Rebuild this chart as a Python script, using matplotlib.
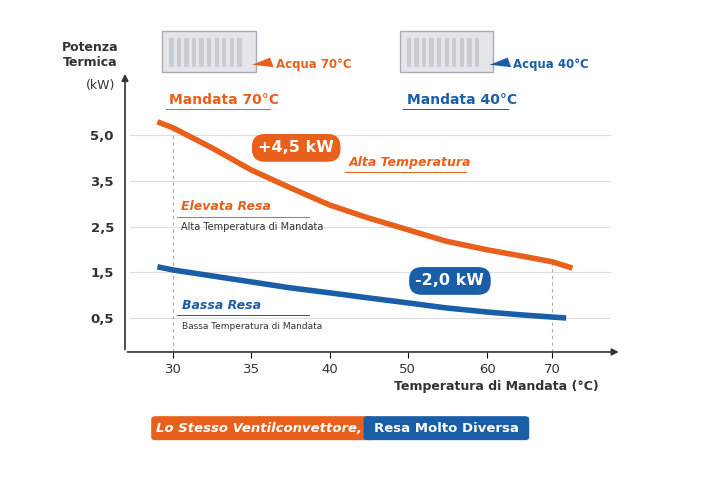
import matplotlib.pyplot as plt
from matplotlib.patches import FancyBboxPatch, Rectangle, Polygon

ORANGE = "#e8601c"
BLUE = "#1a5ea8"

x_labels = ["30", "35", "40", "50", "60", "70"]
x_pos = [0, 1, 2.01, 3.01, 4.03, 4.86]
y_labels = ["0,5", "1,5", "2,5", "3,5", "5,0"]
y_pos = [0, 1, 2, 3, 4]

# curves, in tick-slot units
curve_x = [-0.2, 0, 0.5, 1, 1.5, 2.01, 2.5, 3.01, 3.5, 4.03, 4.45, 4.86]
hot_y = [4.29, 4.16, 3.72, 3.24, 2.85, 2.47, 2.19, 1.93, 1.68, 1.49, 1.36, 1.23]
cold_y = [1.12, 1.05, 0.92, 0.79, 0.66, 0.55, 0.44, 0.33, 0.22, 0.13, 0.07, 0.02]
hot_end = (5.12, 1.09)
cold_end = (5.04, 0.0)

fig = plt.figure(figsize=(7.2, 4.8), dpi=100)
ax = fig.add_axes([0.1736, 0.2667, 0.6875, 0.5833])
ax.set_xlim(-0.615, 5.73)
ax.set_ylim(-0.744, 5.38)
for s in ax.spines.values():
    s.set_visible(False)

for y in y_pos:
    ax.plot([-0.55, 5.6], [y, y], color="#dddddd", lw=0.8, zorder=0)
ax.plot([0, 0], [-0.744, 4.16], color="#aaaaaa", lw=0.8, ls=(0, (3, 3)))
ax.plot([4.86, 4.86], [-0.744, 1.23], color="#aaaaaa", lw=0.8, ls=(0, (3, 3)))

ax.plot(curve_x + [hot_end[0]], hot_y + [hot_end[1]], color=ORANGE, lw=4,
        solid_capstyle="butt", solid_joinstyle="round")
ax.plot(curve_x + [cold_end[0]], cold_y + [cold_end[1]], color=BLUE, lw=4,
        solid_capstyle="butt", solid_joinstyle="round")

ax.annotate("", xy=(-0.615, 5.4), xytext=(-0.615, -0.75),
            arrowprops=dict(arrowstyle="-|>", color="#333", lw=1.2), annotation_clip=False)
ax.annotate("", xy=(5.75, -0.744), xytext=(-0.62, -0.744),
            arrowprops=dict(arrowstyle="-|>", color="#333", lw=1.2), annotation_clip=False)

ax.set_xticks(x_pos)
ax.set_xticklabels(x_labels, fontsize=9.5, color="#333")
ax.set_yticks(y_pos)
ax.set_yticklabels(y_labels, fontsize=9.5, color="#333", fontweight="bold")
ax.tick_params(axis="y", length=0, pad=8)
ax.tick_params(axis="x", length=4, direction="out", pad=4)

fig.text(0.125, 0.885, "Potenza\nTermica", ha="center", va="center", fontsize=9, fontweight="bold", color="#333")
fig.text(0.14, 0.822, "(kW)", ha="center", va="center", fontsize=9, color="#333")
fig.text(0.69, 0.194, "Temperatura di Mandata (°C)", ha="center", va="center", fontsize=9, fontweight="bold", color="#333")

ax.text(0.1, 2.43, "Elevata Resa", color=ORANGE, fontsize=9, fontweight="bold", style="italic", va="center")
ax.plot([0.05, 1.75], [2.2, 2.2], color=ORANGE, lw=0.7)
ax.text(0.1, 2.0, "Alta Temperatura di Mandata", color="#333", fontsize=7, va="center")
ax.text(2.26, 3.41, "Alta Temperatura", color=ORANGE, fontsize=9, fontweight="bold", style="italic", va="center")
ax.plot([2.2, 3.75], [3.2, 3.2], color=ORANGE, lw=0.7)
ax.text(0.12, 0.28, "Bassa Resa", color=BLUE, fontsize=9, fontweight="bold", style="italic", va="center")
ax.plot([0.05, 1.75], [0.07, 0.07], color=BLUE, lw=0.7)
ax.text(0.12, -0.18, "Bassa Temperatura di Mandata", color="#333", fontsize=6.5, va="center")

ax.text(1.58, 3.72, "+4,5 kW", color="white", fontsize=11.5, fontweight="bold", ha="center", va="center",
        bbox=dict(boxstyle="round,pad=0.4,rounding_size=0.8", fc=ORANGE, ec="none"))
ax.text(3.55, 0.81, "-2,0 kW", color="white", fontsize=11.5, fontweight="bold", ha="center", va="center",
        bbox=dict(boxstyle="round,pad=0.4,rounding_size=0.8", fc=BLUE, ec="none"))

def unit(x0, color, label, water):
    fig.patches.append(Rectangle((x0, 0.85), 0.13, 0.085, transform=fig.transFigure,
                                 fc="#e4e6ea", ec="#aab", lw=1))
    for i in range(10):
        fig.patches.append(Rectangle((x0 + 0.01 + i * 0.0105, 0.86), 0.006, 0.06,
                                     transform=fig.transFigure, fc="#c8ccd2", ec="none"))
    fig.patches.append(Polygon([(x0 + 0.125, 0.865), (x0 + 0.155, 0.86), (x0 + 0.15, 0.88)],
                               transform=fig.transFigure, fc=color, ec="none"))
    fig.text(x0 + 0.158, 0.865, water, color=color, fontsize=8.5, fontweight="bold", va="center")
    fig.text(x0 + 0.01, 0.792, label, color=color, fontsize=10, fontweight="bold", va="center")
    fig.lines.append(plt.Line2D([x0 + 0.005, x0 + 0.15], [0.772, 0.772], color=color, lw=0.7,
                                transform=fig.transFigure))

unit(0.225, ORANGE, "Mandata 70°C", "Acqua 70°C")
unit(0.555, BLUE, "Mandata 40°C", "Acqua 40°C")

fig.patches.append(FancyBboxPatch((0.21, 0.083), 0.31, 0.05, boxstyle="round,pad=0,rounding_size=0.006",
                                  transform=fig.transFigure, fc=ORANGE, ec="none"))
fig.patches.append(FancyBboxPatch((0.505, 0.083), 0.23, 0.05, boxstyle="round,pad=0,rounding_size=0.006",
                                  transform=fig.transFigure, fc=BLUE, ec="none"))
fig.text(0.36, 0.107, "Lo Stesso Ventilconvettore,", color="white", fontsize=9.5, fontweight="bold",
         style="italic", ha="center", va="center")
fig.text(0.62, 0.107, "Resa Molto Diversa", color="white", fontsize=9.5, fontweight="bold",
         ha="center", va="center")

fig.savefig("out.png", dpi=100)
